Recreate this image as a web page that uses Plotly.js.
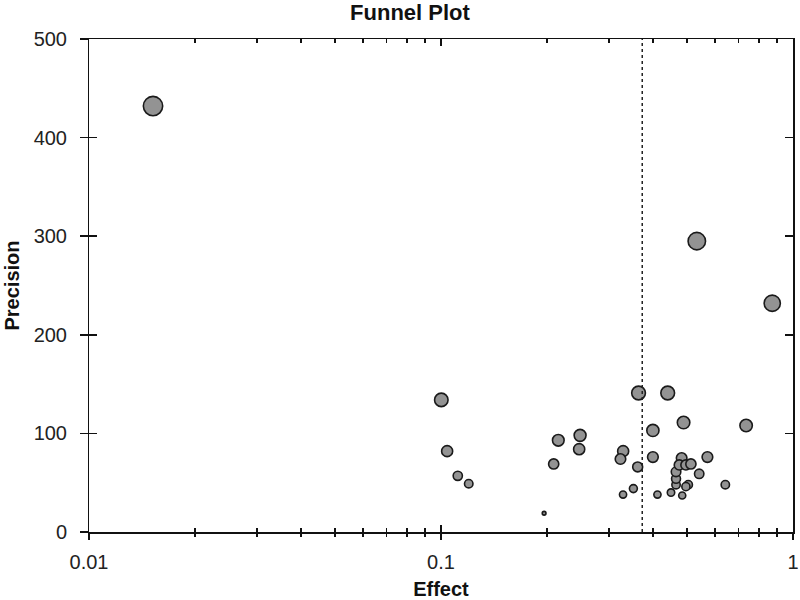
<!DOCTYPE html>
<html>
<head>
<meta charset="utf-8">
<script src="https://cdn.plot.ly/plotly-3.0.1.min.js"></script>
<style>
  html, body { margin: 0; padding: 0; background: #fff; }
  #chart { width: 800px; height: 600px; }
</style>
</head>
<body>
<div id="chart"></div>
<script>
// Study estimates
const effect = [0.0152, 0.533, 0.873, 0.1002, 0.1041, 0.1116, 0.1199, 0.1963, 0.209, 0.2154,
                0.2484, 0.2469, 0.3292, 0.3235, 0.362, 0.352, 0.329, 0.3641, 0.4406, 0.3999,
                0.4888, 0.7359, 0.3999, 0.412, 0.4502, 0.4845, 0.4653, 0.4653, 0.4653, 0.4827,
                0.4753, 0.4963, 0.5128, 0.504, 0.4963, 0.5414, 0.5713, 0.6423];
const precision = [432, 295, 232, 134, 82, 57, 49, 19, 69, 93,
                   98, 84, 82, 74, 66, 44, 38, 141, 141, 103,
                   111, 108, 76, 38, 40, 37, 48, 54, 61, 75,
                   68, 68, 69, 48, 46, 59, 76, 48];

// pooled effect (dotted reference line)
const pooledEffect = 0.373;

const xTickVals = [0.01, 0.1, 1];
const xTickText = ['0.01', '0.1', '1'];
const yTickVals = [0, 100, 200, 300, 400, 500];

const font = 'Liberation Sans, Arial, sans-serif';

// bigger precision -> bigger bubble
const sizes = precision.map(p => Math.max(3.5, 5 * Math.log(p) - 11));

const studies = {
    x: effect,
    y: precision,
    type: 'scatter',
    mode: 'markers',
    marker: {
        size: sizes,
        color: '#939393',
        opacity: 1,
        line: { color: '#1a1a1a', width: 1.6 }
    },
    xaxis: 'x',
    yaxis: 'y',
    hoverinfo: 'x+y'
};

const refLine = {
    x: [pooledEffect, pooledEffect],
    y: [0, 500],
    type: 'scatter',
    mode: 'lines',
    line: { color: '#222', width: 1.5, dash: 'dot' },
    xaxis: 'x2',
    yaxis: 'y2',
    hoverinfo: 'skip'
};

const layout = {
    width: 800,
    height: 600,
    margin: { l: 89, r: 7, t: 39, b: 68 },
    paper_bgcolor: '#fff',
    plot_bgcolor: '#fff',
    showlegend: false,
    font: { family: font, size: 20, color: '#111' },
    title: {
        text: '<b>Funnel Plot</b>',
        font: { family: font, size: 22, color: '#111' },
        xref: 'container', x: 0.5125, xanchor: 'center',
        yref: 'container', y: 0.98, yanchor: 'middle'
    },
    // inside ticks on all four sides
    xaxis: {
        type: 'log',
        range: [-2, 0],
        tickvals: xTickVals,
        showticklabels: false,
        ticks: 'inside',
        ticklen: 7,
        tickcolor: '#111',
        tickwidth: 1.5,
        minor: { ticks: 'inside', ticklen: 4, tickcolor: '#111', tickwidth: 1.5, dtick: 'D1' },
        showline: true,
        linecolor: '#111',
        linewidth: 1.5,
        mirror: 'ticks',
        showgrid: false,
        zeroline: false
    },
    yaxis: {
        range: [0, 500],
        tickvals: yTickVals,
        showticklabels: false,
        ticks: 'inside',
        ticklen: 8,
        tickcolor: '#111',
        tickwidth: 1.5,
        showline: true,
        linecolor: '#111',
        linewidth: 1.5,
        mirror: 'ticks',
        showgrid: false,
        zeroline: false
    },
    // outside half of the crossing ticks + labels
    xaxis2: {
        type: 'log',
        range: [-2, 0],
        overlaying: 'x',
        anchor: 'y',
        side: 'bottom',
        tickvals: xTickVals,
        ticktext: xTickText,
        ticks: 'outside',
        ticklen: 7,
        tickcolor: '#111',
        tickwidth: 1.5,
        minor: { ticks: 'outside', ticklen: 4, tickcolor: '#111', tickwidth: 1.5, dtick: 'D1' },
        tickfont: { family: font, size: 20, color: '#222' },
        ticklabelstandoff: 5,
        ticklabeloverflow: 'allow',
        showgrid: false,
        zeroline: false,
        title: { text: '<b>Effect</b>', font: { family: font, size: 20, color: '#111' }, standoff: 12 }
    },
    yaxis2: {
        range: [0, 500],
        overlaying: 'y',
        anchor: 'x',
        side: 'left',
        tickvals: yTickVals,
        ticks: 'outside',
        ticklen: 8,
        tickcolor: '#111',
        tickwidth: 1.5,
        tickfont: { family: font, size: 20, color: '#222' },
        ticklabelstandoff: 9,
        showgrid: false,
        zeroline: false,
        title: { text: '<b>Precision</b>', font: { family: font, size: 20, color: '#111' }, standoff: 8 }
    }
};

Plotly.newPlot('chart', [refLine, studies], layout, { displayModeBar: false, staticPlot: true });
</script>
</body>
</html>
